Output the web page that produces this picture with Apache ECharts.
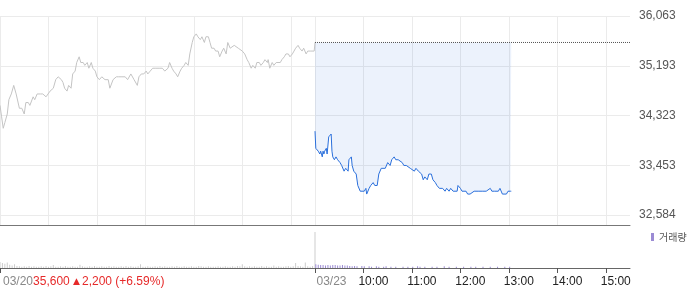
<!DOCTYPE html>
<html><head><meta charset="utf-8">
<script src="https://cdn.jsdelivr.net/npm/echarts@6/dist/echarts.min.js"></script>
<style>html,body{margin:0;padding:0;background:#fff}#c{width:700px;height:289px}</style>
</head><body><div id="c"></div>
<script>
// ---- data ----
const days = ['03/20', '03/23'];
const yTicks = [32584, 33453, 34323, 35193, 36063];
const prevClose = 35600;
const change = 2200;
const changePct = 6.59;
const volLegendName = '거래량';

// [minute index from 03/20 09:00, price]
const day1Price = [[0,34500],[2,34300],[4,34100],[6,34200],[9,34350],[11,34600],[14,34700],[17,34850],[20,34700],[24,34450],[27,34450],[30,34350],[32,34550],[35,34550],[37,34500],[41,34650],[43,34600],[46,34700],[50,34700],[53,34700],[57,34650],[59,34650],[62,34750],[66,34800],[69,34950],[72,35000],[76,34950],[78,34900],[80,34800],[83,34750],[85,34850],[88,34800],[90,35050],[93,35100],[95,35250],[98,35350],[100,35250],[103,35250],[105,35200],[108,35250],[110,35150],[113,35250],[115,35150],[118,35100],[120,35000],[123,34950],[126,35000],[130,34950],[134,34950],[136,34800],[140,34950],[144,35000],[147,35000],[151,35000],[155,35000],[158,34950],[162,35050],[166,34950],[170,34850],[172,35000],[175,35050],[178,35050],[181,35100],[183,35050],[186,35100],[189,35150],[193,35150],[197,35150],[201,35150],[204,35100],[208,35150],[210,35250],[213,35150],[215,35100],[218,35050],[220,35000],[223,35100],[225,35150],[228,35200],[230,35250],[233,35200],[235,35400],[238,35600],[240,35700],[243,35750],[245,35700],[248,35650],[250,35700],[253,35600],[255,35700],[258,35700],[260,35600],[262,35500],[265,35500],[267,35450],[270,35450],[272,35350],[275,35450],[277,35500],[280,35400],[282,35600],[285,35500],[287,35500],[290,35550],[292,35550],[295,35500],[297,35500],[300,35450],[303,35400],[306,35300],[308,35250],[311,35150],[313,35200],[316,35150],[318,35250],[321,35250],[323,35200],[326,35250],[328,35300],[331,35250],[332,35300],[334,35150],[337,35250],[339,35200],[342,35250],[344,35250],[347,35250],[349,35300],[352,35350],[354,35400],[357,35400],[359,35350],[362,35400],[364,35450],[366,35500],[369,35550],[371,35500],[374,35450],[376,35500],[379,35400],[381,35450],[384,35450],[386,35450],[389,35450],[390,35600]];

const day2Price = [[390,34050],[391,33750],[392,33750],[394,33700],[395,33700],[396,33650],[397,33700],[399,33600],[400,33700],[401,33650],[402,33700],[404,33750],[405,33650],[407,33950],[410,34000],[411,33700],[412,33600],[414,33550],[416,33600],[418,33550],[421,33500],[423,33450],[426,33350],[428,33400],[431,33350],[432,33550],[435,33600],[436,33450],[438,33350],[441,33300],[443,33100],[446,33000],[448,33000],[451,33000],[453,33050],[454,32950],[457,33050],[459,33100],[462,33150],[464,33100],[467,33100],[469,33300],[472,33400],[474,33400],[477,33400],[479,33400],[480,33500],[483,33450],[485,33550],[488,33600],[490,33550],[493,33550],[495,33550],[498,33500],[500,33450],[503,33450],[505,33450],[508,33400],[510,33400],[513,33350],[515,33400],[518,33350],[520,33350],[522,33300],[524,33200],[526,33250],[529,33200],[531,33300],[534,33300],[536,33200],[539,33150],[541,33100],[544,33050],[546,33050],[548,33050],[551,33000],[553,33050],[556,33000],[558,33050],[561,33000],[563,33000],[566,33000],[567,33100],[570,33050],[572,33000],[574,33000],[577,33000],[579,32950],[582,32950],[584,32950],[587,33000],[589,33000],[592,33000],[594,33000],[597,33000],[599,33000],[602,33000],[604,33000],[607,33050],[609,33000],[612,33000],[614,33000],[617,33000],[619,33050],[622,32950],[624,32950],[627,32950],[629,33000],[632,33000],[633,33000]];

// volume, one value per 3 minutes
const volStep = 3;
const day1Vol = [14,12,10,13,8,6,9,5,4,3, 4,3,5,3,4,3,3,4,3,5, 3,4,7,3,3,4,3,5,3,3, 4,3,3,8,4,3,3,4,3,5, 3,3,4,3,3,5,3,4,3,3, 4,3,5,3,4,3,3,4,9,3, 3,4,3,3,4,3,5,3,4,3, 3,4,3,5,3,3,4,3,3,4, 3,3,5,4,3,3,4,3,3,3, 4,3,3,4,3,3,4,3,5,4, 9,4,3,4,3,4,3,3,5,3, 4,3,3,6,3,4,3,3,4,5, 3,4,12,5,4,3,13,4,3,5];
const day1CloseVol = 86;
const day2Vol = [9,8,7,7,6,7,6,7,7,6, 6,7,6,6,5,4,5,4,0,5, 4,0,4,3,0,4,3,0,3,4, 0,3,0,3,0,0,3,0,3,0, 3,0,4,3,0,3,0,0,3,0, 3,0,0,4,0,3,0,0,3,0, 0,3,0,0,3,0,3,0,0,3, 0,0,3,0,0,3,0,0,3,0, 3];

// ---- build ----
const SESSION = 390;
const cats = [];
for (let i = 0; i <= 2 * SESSION; i++) {
  const d = i < SESSION ? 0 : 1;
  const m = d === 0 ? i : i - SESSION;
  const hh = 9 + Math.floor(m / 60), mm = m % 60;
  cats.push(days[d] + ' ' + String(hh).padStart(2, '0') + ':' + String(mm).padStart(2, '0'));
}
const fmt = v => v.toLocaleString('en-US');
const day1VolPairs = day1Vol.map((v, k) => [k * volStep, v]).concat([[SESSION, day1CloseVol]]);
const day2VolPairs = day2Vol.map((v, k) => [SESSION + 1 + k * volStep, v]);
const isHour = v => v.endsWith(':00');

const FONT = '"Liberation Sans", Arial, sans-serif';
const chart = echarts.init(document.getElementById('c'));
chart.setOption({
  animation: false,
  textStyle: { fontFamily: FONT },
  legend: {
    data: [volLegendName], left: 651, top: 232, padding: 0, icon: 'rect',
    itemWidth: 3, itemHeight: 8, selectedMode: false,
    textStyle: { fontSize: 10, color: '#555', fontFamily: '"Noto Sans CJK KR", sans-serif' }
  },
  grid: [
    { left: 0, right: 70, top: 16, height: 199 },
    { left: 0, right: 70, top: 16, height: 209 },
    { left: 0, right: 70, top: 226, height: 42 },
    { left: 0, right: 70, top: 226, height: 42 }
  ],
  xAxis: [
    { gridIndex: 0, type: 'category', data: cats, boundaryGap: false, show: false },
    { gridIndex: 1, type: 'category', data: cats, boundaryGap: false,
      axisLine: { show: true, lineStyle: { color: '#777', width: 1 } },
      axisTick: { show: false }, axisLabel: { show: false },
      splitLine: { show: true, interval: (i, v) => isHour(v), lineStyle: { color: '#ebebeb', width: 1 } } },
    { gridIndex: 2, type: 'category', data: cats, boundaryGap: false,
      axisLine: { show: true, lineStyle: { color: '#666', width: 1 } },
      axisTick: { show: true, length: 5, interval: (i, v) => i === 0 || (i >= SESSION && isHour(v)), lineStyle: { color: '#555' } },
      axisLabel: { show: true, interval: (i, v) => i > SESSION && isHour(v), formatter: v => v.slice(6),
        color: '#222', fontSize: 12, margin: 8, align: 'center', padding: [0, 0, 0, 20] },
      splitLine: { show: false } },
    { gridIndex: 3, type: 'category', data: cats, boundaryGap: false,
      axisLine: { show: false }, axisTick: { show: false }, splitLine: { show: false },
      axisLabel: { show: true, interval: (i) => i === 0 || i === SESSION, align: 'left', margin: 8,
        formatter: (v, i) => i === 0
          ? `{d|${days[0]}}{r|${fmt(prevClose)} }{t|▲}{r|${fmt(change)} (+${changePct.toFixed(2)}%)}`
          : `{d|${days[1]}}`,
        rich: {
          d: { color: '#888', fontSize: 12, fontFamily: FONT },
          r: { color: '#e62a2a', fontSize: 12, fontFamily: FONT },
          t: { color: '#e62a2a', fontSize: 9, fontFamily: '"DejaVu Sans", sans-serif', padding: [0, 2, 0, 0] }
        } } }
  ],
  yAxis: [
    { gridIndex: 0, type: 'value', position: 'right', min: yTicks[0], max: yTicks[yTicks.length - 1],
      interval: (yTicks[yTicks.length - 1] - yTicks[0]) / (yTicks.length - 1),
      axisLine: { show: false }, axisTick: { show: false },
      splitLine: { show: true, lineStyle: { color: '#ebebeb', width: 1 } },
      axisLabel: { margin: 9, color: '#555', fontSize: 12, formatter: v => fmt(Math.floor(v + 1e-6)) } },
    { gridIndex: 1, type: 'value', min: 0, max: 1, show: false },
    { gridIndex: 2, type: 'value', min: 0, max: 100, show: false },
    { gridIndex: 3, type: 'value', min: 0, max: 1, show: false }
  ],
  series: [
    { type: 'line', xAxisIndex: 0, yAxisIndex: 0, data: day1Price, symbol: 'none', silent: true,
      lineStyle: { color: '#c4c4c4', width: 1 } },
    { type: 'line', xAxisIndex: 0, yAxisIndex: 0, data: day2Price, symbol: 'none', silent: true,
      lineStyle: { color: '#2a6fdb', width: 1 },
      areaStyle: { origin: prevClose, color: 'rgba(40,100,220,0.12)' } },
    { type: 'line', xAxisIndex: 0, yAxisIndex: 0, data: [[SESSION, prevClose], [2 * SESSION, prevClose]],
      symbol: 'none', silent: true, lineStyle: { color: '#555', width: 1, type: [1, 1] } },
    { type: 'bar', xAxisIndex: 2, yAxisIndex: 2, data: day1VolPairs, barWidth: 1, barGap: '-100%',
      silent: true, itemStyle: { color: '#cdcdcd' } },
    { type: 'bar', name: volLegendName, xAxisIndex: 2, yAxisIndex: 2, data: day2VolPairs, barWidth: 1,
      barGap: '-100%', silent: true, itemStyle: { color: '#9b8bd4' } }
  ]
});
</script></body></html>
